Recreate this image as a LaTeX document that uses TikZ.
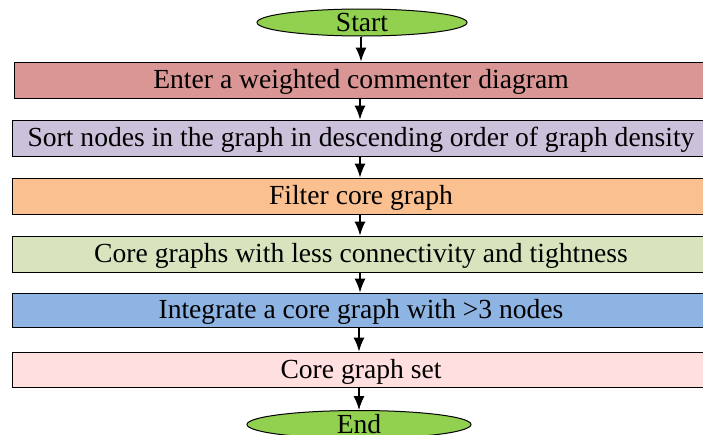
\documentclass[tikz,border=0pt]{standalone}
\usepackage{fontspec}
\setmainfont{Liberation Serif}
\usetikzlibrary{arrows.meta,shapes.geometric}
\definecolor{cA}{HTML}{D99694}
\definecolor{cB}{HTML}{CCC1DA}
\definecolor{cC}{HTML}{FAC090}
\definecolor{cD}{HTML}{D7E4BD}
\definecolor{cE}{HTML}{8EB4E3}
\definecolor{cF}{HTML}{FFDFE0}
\definecolor{cG}{HTML}{92D050}
\begin{document}
\begin{tikzpicture}[x=1pt,y=-1pt,
  every node/.style={font=\fontsize{27.6}{30}\selectfont\rmfamily, inner sep=0pt, text height=17.5pt, text depth=0pt},
  stepbox/.style={draw=black, line width=1pt, rectangle, minimum width=696pt, minimum height=36pt},
  term/.style={draw=black, line width=1pt, ellipse, fill=cG},
  conn/.style={draw=black, line width=1.2pt, -{Latex[length=14pt,width=11pt]}}]
\useasboundingbox (0,0) rectangle (703,434);
\clip (0,0) rectangle (703,434);
\node[term, minimum width=210pt, minimum height=27pt] (start) at (362,22.5) {Start};
\node[stepbox, fill=cA, minimum width=694pt] (b1) at (361,80) {Enter a weighted commenter diagram};
\node[stepbox, fill=cB, minimum width=698pt] (b2) at (361,138) {Sort nodes in the graph in descending order of graph density};
\node[stepbox, fill=cC, minimum width=698pt] (b3) at (361,196) {Filter core graph};
\node[stepbox, fill=cD, minimum width=698pt] (b4) at (361,254) {Core graphs with less connectivity and tightness};
\node[stepbox, fill=cE, minimum width=698pt, minimum height=34pt] (b5) at (361,310) {Integrate a core graph with >3 nodes};
\node[stepbox, fill=cF, minimum width=698pt, minimum height=35pt] (b6) at (361,369.5) {Core graph set};
\node[term, minimum width=224pt, minimum height=28pt] (end) at (359,424.5) {End};
\draw[conn] (start.south -| 361,0) -- (b1.north -| 361,0);
\draw[conn] (b1.south -| 360,0) -- (b2.north -| 360,0);
\draw[conn] (b2.south -| 360,0) -- (b3.north -| 360,0);
\draw[conn] (b3.south -| 360,0) -- (b4.north -| 360,0);
\draw[conn] (b4.south -| 360,0) -- (b5.north -| 360,0);
\draw[conn] (b5.south -| 359,0) -- (b6.north -| 359,0);
\draw[conn] (b6.south -| 359,0) -- (end.north);
\end{tikzpicture}
\end{document}
